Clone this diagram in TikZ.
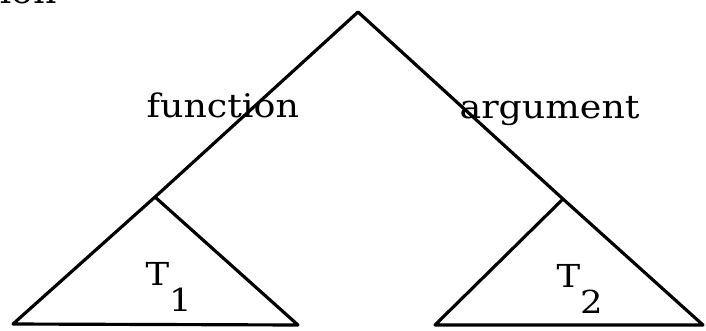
\documentclass[tikz,border=0pt]{standalone}
\usepackage{fontspec}
\setmainfont[FakeStretch=1.12]{DejaVu Serif}
\usepackage{tikz}

\newcommand{\lowsub}[1]{\raisebox{-14.8pt}{#1}}

\begin{document}
\begin{tikzpicture}[line width=1.8pt, line join=round,
	lbl/.style={font=\fontsize{18.5}{22}\selectfont, inner sep=0pt, anchor=base west},
	tlbl/.style={font=\fontsize{18}{21}\selectfont, inner sep=0pt, anchor=base west}]
	\useasboundingbox (0, 0) rectangle (14.12, 6.6);
	% Tree points:
	\coordinate (root) at (7.16, 6.36);
	\coordinate (fun) at (3.10, 2.66);
	\coordinate (arg) at (11.26, 2.62);
	\coordinate (funL) at (0.26, 0.12);
	\coordinate (funR) at (5.96, 0.10);
	\coordinate (argL) at (8.70, 0.10);
	\coordinate (argR) at (14.06, 0.10);
	% Branches and subtrees:
	\draw (fun) -- (root) -- (arg);
	\draw (fun) -- (funL) -- (funR) -- cycle;
	\draw (arg) -- (argL) -- (argR) -- cycle;
	% Labels:
	\node[lbl] (funtxt) at (2.90, 4.26) {function};
	\node[lbl] (argtxt) at (9.16, 4.24) {argument};
	\node[tlbl] (t1) at (2.88, 0.90) {T\lowsub{1}};
	\node[tlbl] (t2) at (11.10, 0.86) {T\lowsub{2}};
	\node[lbl] (ion) at (-0.04, 6.54) {ion};
\end{tikzpicture}
\end{document}
